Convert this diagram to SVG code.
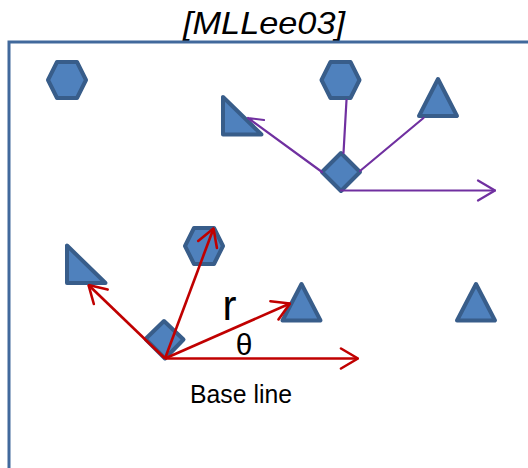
<svg xmlns="http://www.w3.org/2000/svg" width="528" height="468" viewBox="0 0 528 468">
  <style>
    .shape { fill: #4f81bd; stroke: #385d8a; stroke-width: 4; stroke-linejoin: round; }
    .frame { fill: none; stroke: #41699c; stroke-width: 3; }
    .purple { fill: none; stroke: #7030a0; stroke-width: 2.2; stroke-linecap: round; }
    .red { fill: none; stroke: #c00000; stroke-width: 2.6; }
    .lbl { font-family: "Liberation Sans", Arial, sans-serif; fill: #000; }
  </style>
  <defs>
    <marker id="headPurple" viewBox="0 0 20 24" refX="19" refY="12" markerWidth="20" markerHeight="24" markerUnits="userSpaceOnUse" orient="auto">
      <path d="M2,2 L19,12 L2,22" fill="none" stroke="#7030a0" stroke-width="2.2" stroke-linecap="round" stroke-linejoin="round"/>
    </marker>
    <marker id="headRed" viewBox="0 0 20 24" refX="19" refY="12" markerWidth="20" markerHeight="24" markerUnits="userSpaceOnUse" orient="auto">
      <path d="M2,2 L19,12 L2,22" fill="none" stroke="#c00000" stroke-width="2.6" stroke-linecap="round" stroke-linejoin="round"/>
    </marker>
  </defs>

  <rect width="528" height="468" fill="#ffffff"/>

  <!-- title -->
  <text class="lbl" x="183" y="34" font-size="32" font-style="italic" textLength="162" lengthAdjust="spacingAndGlyphs">[MLLee03]</text>

  <!-- frame (open to the right and bottom) -->
  <rect class="frame" x="9" y="42" width="600" height="500"/>

  <!-- upper cluster -->
  <g id="hex-top-left"><polygon class="shape" points="48,80 57,62 77,62 86,80 77,98 57,98"/></g>
  <g id="hex-top-mid"><polygon class="shape" points="321.5,80 330.5,62 350.5,62 359.5,80 350.5,98 330.5,98"/></g>
  <g id="tri-top-right"><polygon class="shape" points="438,79 457,116 419,116"/></g>
  <g id="rtri-top"><polygon class="shape" points="223,97 223,134.5 261.5,134.5"/></g>
  <g id="diamond-top"><polygon class="shape" points="341,153 360,172 341,191 322,172"/></g>

  <!-- lower cluster -->
  <g id="rtri-low"><polygon class="shape" points="67,245.5 67,283 105.5,283"/></g>
  <g id="hex-low"><polygon class="shape" points="185,246 194,228 214,228 223,246 214,264 194,264"/></g>
  <g id="tri-low-mid"><polygon class="shape" points="301.5,284 320.5,320.5 282.5,320.5"/></g>
  <g id="tri-low-right"><polygon class="shape" points="476,284 495,320.5 457,320.5"/></g>
  <g id="diamond-low"><polygon class="shape" points="164,321 183.5,339.5 165,358.5 145.5,339"/></g>

  <!-- connectors -->
  <g id="connectors">
    <line class="purple" x1="341" y1="190.5" x2="495" y2="190.5" marker-end="url(#headPurple)"/>
    <!-- arrow into the right-angle triangle: only the outer barb shows -->
    <path class="purple" d="M322,172 L248,118 M248,118 L264,120"/>
    <line class="purple" x1="343.5" y1="153" x2="346.5" y2="100"/>
    <line class="purple" x1="360" y1="171" x2="423.5" y2="118"/>

    <line class="red" x1="165" y1="358.5" x2="358" y2="358.5" marker-end="url(#headRed)"/>
    <line class="red" x1="165" y1="358.5" x2="88.5" y2="285" marker-end="url(#headRed)"/>
    <line class="red" x1="165" y1="358.5" x2="213.5" y2="228.5" marker-end="url(#headRed)"/>
    <line class="red" x1="165" y1="358.5" x2="290" y2="303.5" marker-end="url(#headRed)"/>
  </g>

  <!-- labels -->
  <text class="lbl" x="222.5" y="320" font-size="42">r</text>
  <text class="lbl" x="244" y="355" font-size="30" text-anchor="middle">θ</text>
  <text class="lbl" x="190" y="402.5" font-size="26" textLength="102" lengthAdjust="spacingAndGlyphs">Base line</text>
</svg>
